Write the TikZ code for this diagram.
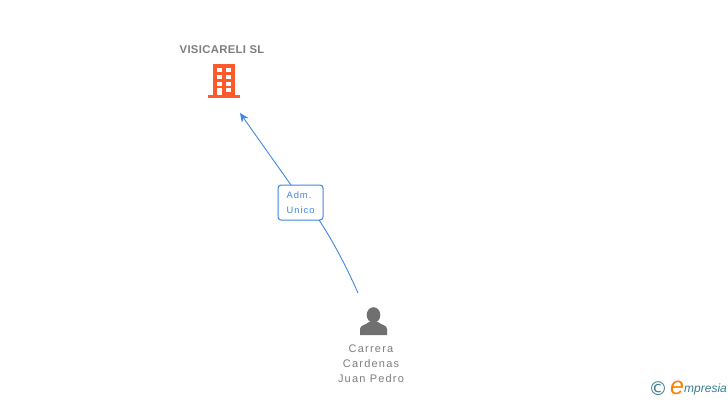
\documentclass[tikz,border=0pt]{standalone}
\usepackage{fontspec}
\setmainfont{Liberation Sans}
\newfontfamily\spaced[LetterSpace=11]{Liberation Sans}
\newfontfamily\titulo[LetterSpace=3]{Liberation Sans}
\newfontfamily\simbolo{DejaVu Sans}
\usepackage{xcolor}
\usetikzlibrary{arrows.meta, calc, positioning}
\definecolor{azul}{HTML}{3F86E6}
\definecolor{laranja}{HTML}{FF5A2B}
\definecolor{cinza}{HTML}{707070}
\definecolor{petroleo}{HTML}{3B7C93}
\tikzset{
  ligacao/.style={azul, line width=0.9pt},
  nome/.style={text=cinza!90, font=\spaced\fontsize{11}{15}\selectfont, align=center, inner sep=0pt},
  cargo/.style={draw=azul, line width=1pt, rounded corners=3pt, fill=white, minimum width=45pt,
    minimum height=35pt, inner sep=0pt, text=azul, font=\spaced\fontsize{9.3}{15}\selectfont}
}

\begin{document}
\begin{tikzpicture}[x=1pt, y=-1pt]
  \useasboundingbox (0,0) rectangle (728,400);

  % empresa
  \node[nome, font=\titulo\bfseries\fontsize{11.3}{13}\selectfont] (empresa) at (222,50) {VISICARELI SL};
  \fill[laranja] (213,64) rectangle (235,96);
  \fill[laranja] (208,95) rectangle (240,97.5);
  \foreach \y in {68,75,82,88} {
    \fill[white] (217,\y) rectangle ++(4.7,4);
    \fill[white] (226,\y) rectangle ++(4.7,4);
  }
  \fill[white] (217,88) rectangle (221.7,95);

  % pessoa
  \fill[cinza] (373.5,315) ellipse (6.8 and 7.8);
  \fill[cinza] (360,335) -- (360,329) .. controls (360,325) and (366,325) .. (369,322)
    -- (378,322) .. controls (381,325) and (387,325) .. (387,329) -- (387,335) -- cycle;
  \node[nome] (pessoa) at (371,364) {Carrera\\Cardenas\\Juan Pedro};

  % ligacoes
  \coordinate (fim) at (240,113);
  \coordinate (inicio) at (358,293);
  \node[cargo, align=left] (adm) at (300.5,202.5) {Adm.\\Unico};
  \coordinate (admsul) at (319,220);
  \coordinate (admnorte) at (291,185);
  \draw[ligacao] (inicio) .. controls (347,268) and (333,241) .. (admsul);
  \draw[ligacao, -{Stealth[length=9pt, width=8pt]}] (admnorte) -- (fim);

  % logotipo
  \node[text=petroleo, font=\simbolo\fontsize{19}{19}\selectfont, inner sep=0pt] (copyright) at (658,389) {©};
  \node[text=orange, font=\itshape\fontsize{25}{25}\selectfont, inner sep=0pt] (letra) at (677,388) {e};
  \node[text=petroleo, font=\itshape\fontsize{12}{13}\selectfont, inner sep=0pt, anchor=west] (marca) at (684,389.5) {mpresia};
\end{tikzpicture}
\end{document}
